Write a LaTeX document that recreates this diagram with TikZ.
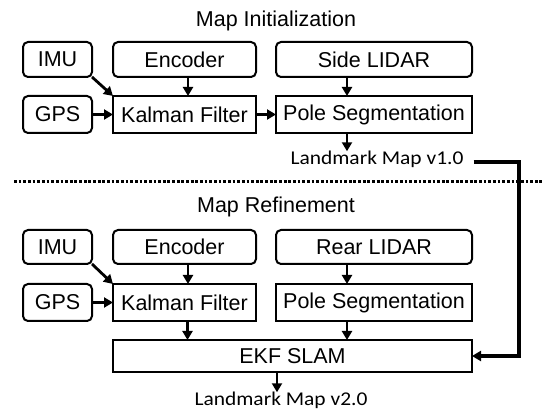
\documentclass[tikz,border=0pt]{standalone}
\usepackage{fontspec}
\setmainfont{Liberation Sans}
\newfontfamily\calib[FakeStretch=1.1]{Carlito}
\usetikzlibrary{arrows.meta}
\begin{document}
\begin{tikzpicture}[x=1pt,y=-1pt,
  lbl/.style={font=\fontsize{21.5}{24}\selectfont, inner sep=0pt, outer sep=0pt},
  sensor/.style={draw, line width=2pt, rounded corners=5pt, lbl},
  proc/.style={draw, line width=2pt, lbl},
  mapnote/.style={font=\calib\fontsize{19.5}{21}\selectfont, inner sep=0pt, anchor=base},
  title/.style={lbl, anchor=base},
  arr/.style={line width=2.8pt, -{Triangle[length=9pt,width=10pt]}},
  ]
\useasboundingbox (0,0) rectangle (542,414);

% ---- map initialization ----
\node[title] (t1) at (276,27) {Map Initialization};
\node[sensor, minimum width=69, minimum height=35] (imu1) at (57.5,59.5) {IMU};
\node[sensor, minimum width=143, minimum height=35] (enc1) at (184.5,59.5) {Encoder};
\node[sensor, minimum width=196, minimum height=35] (lid1) at (374,59.5) {Side LIDAR};
\node[sensor, minimum width=69, minimum height=37] (gps1) at (57.5,114.5) {GPS};
\node[proc, minimum width=143, minimum height=37] (kf1) at (184.5,114.5) {Kalman Filter};
\node[proc, minimum width=196, minimum height=37] (ps1) at (374,114.5) {Pole Segmentation};
\node[mapnote] (lm1) at (377,165) {Landmark Map v1.0};

\draw[arr] (imu1.south east) -- (kf1.north west);
\draw[arr] (gps1.east) -- (kf1.west);
\draw[arr] (kf1.east) -- (ps1.west);
\draw[arr] ([xshift=3.5pt]enc1.south) -- ([xshift=3.5pt]kf1.north);
\draw[arr] ([xshift=-27pt]lid1.south) -- ([xshift=-27pt]ps1.north);
\draw[arr] ([xshift=-27pt]ps1.south) -- ([xshift=-27pt]ps1.south |- lm1.north);

% separator between the two stages
\draw[line width=3pt, dash pattern=on 2.8pt off 1.85pt] (14,182) -- (542,182);

% ---- map refinement ----
\node[title] (t2) at (276,213) {Map Refinement};
\node[sensor, minimum width=69, minimum height=34] (imu2) at (57.5,247) {IMU};
\node[sensor, minimum width=143, minimum height=34] (enc2) at (184.5,247) {Encoder};
\node[sensor, minimum width=196, minimum height=34] (lid2) at (374,247) {Rear LIDAR};
\node[sensor, minimum width=69, minimum height=37] (gps2) at (57.5,302.5) {GPS};
\node[proc, minimum width=143, minimum height=37] (kf2) at (184.5,302.5) {Kalman Filter};
\node[proc, minimum width=196, minimum height=37] (ps2) at (374,302.5) {Pole Segmentation};
\node[proc, minimum width=359, minimum height=32] (ekf) at (292.5,356) {EKF SLAM};
\node[mapnote] (lm2) at (281,406) {Landmark Map v2.0};

\draw[arr] (imu2.south east) -- (kf2.north west);
\draw[arr] (gps2.east) -- (kf2.west);
\draw[arr] ([xshift=3.5pt]enc2.south) -- ([xshift=3.5pt]kf2.north);
\draw[arr] ([xshift=-27pt]lid2.south) -- ([xshift=-27pt]ps2.north);
\draw[arr] ([xshift=3pt]kf2.south) -- ([xshift=3pt]kf2.south |- ekf.north);
\draw[arr] ([xshift=-27pt]ps2.south) -- ([xshift=-27pt]ps2.south |- ekf.north);
\draw[arr] ([xshift=-15.5pt]ekf.south) -- ([xshift=-15.5pt]ekf.south |- lm2.north);

% v1.0 map fed back into the SLAM stage
\coordinate (turn) at (519,162);
\draw[arr, line width=3.2pt] ([shift={(10pt,3pt)}]lm1.base east) -- (turn) |- (ekf.east);
\end{tikzpicture}
\end{document}
